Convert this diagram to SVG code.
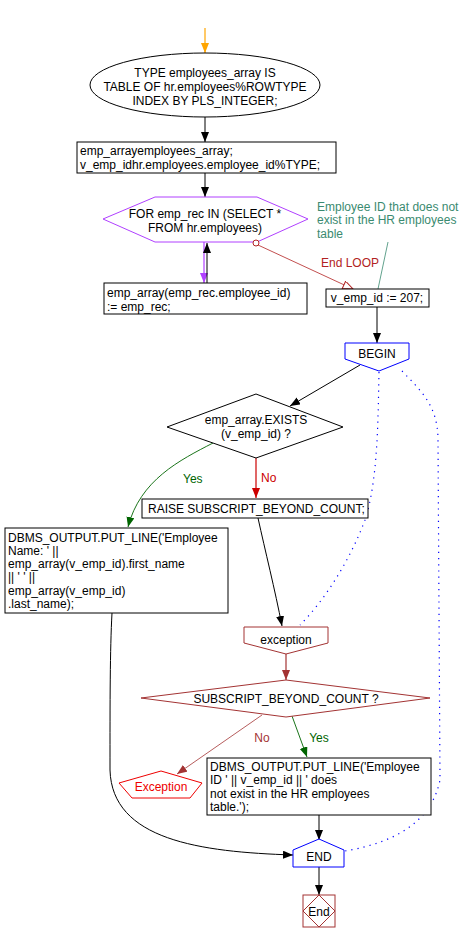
<svg xmlns="http://www.w3.org/2000/svg" width="473" height="942" viewBox="0 0 473 942">
<style>
text{font-family:"Liberation Sans",Arial,sans-serif;font-size:12px;fill:#000}
.c{text-anchor:middle}
.box{fill:#fff;stroke:#000;stroke-width:1}
.ln{fill:none;stroke:#000;stroke-width:1}
.dot{fill:none;stroke:#0000ff;stroke-width:1.2;stroke-dasharray:1.2 5}
</style>
<defs>
<marker id="ab" markerWidth="10" markerHeight="10" refX="10" refY="4" orient="auto" markerUnits="userSpaceOnUse"><path d="M0,0 L10,4 L0,8 z" fill="#000"/></marker>
<marker id="ar" markerWidth="10" markerHeight="10" refX="10" refY="4" orient="auto" markerUnits="userSpaceOnUse"><path d="M0,0 L10,4 L0,8 z" fill="#cc0000"/></marker>
<marker id="ad" markerWidth="10" markerHeight="10" refX="10" refY="4" orient="auto" markerUnits="userSpaceOnUse"><path d="M0,0 L10,4 L0,8 z" fill="#a33333"/></marker>
<marker id="ag" markerWidth="10" markerHeight="10" refX="10" refY="4" orient="auto" markerUnits="userSpaceOnUse"><path d="M0,0 L10,4 L0,8 z" fill="#006400"/></marker>
<marker id="ap" markerWidth="10" markerHeight="10" refX="10" refY="4" orient="auto" markerUnits="userSpaceOnUse"><path d="M0,0 L10,4 L0,8 z" fill="#b040ff"/></marker>
<marker id="ao" markerWidth="10" markerHeight="10" refX="10" refY="4" orient="auto" markerUnits="userSpaceOnUse"><path d="M0,0 L10,4 L0,8 z" fill="#ffa500"/></marker>
<marker id="aopen" markerWidth="12" markerHeight="10" refX="11" refY="4" orient="auto" markerUnits="userSpaceOnUse"><path d="M1,0 L11,4 L1,8 z" fill="#fff" stroke="#b22222"/></marker>
</defs>

<g id="connectors">
<line x1="205" y1="28" x2="205" y2="53" stroke="#ffa500" stroke-width="1.2" marker-end="url(#ao)"/>
<line class="ln" x1="205" y1="117" x2="205" y2="142" marker-end="url(#ab)"/>
<line class="ln" x1="205" y1="173" x2="205" y2="197" marker-end="url(#ab)"/>
<line x1="204" y1="242" x2="204" y2="283" stroke="#b040ff" stroke-width="1.2" marker-end="url(#ap)"/>
<line class="ln" x1="207" y1="283" x2="207" y2="243" marker-end="url(#ab)"/>
<line x1="258" y1="245" x2="353" y2="289" stroke="#b22222" stroke-width="0.8" marker-end="url(#aopen)"/>
<text x="321" y="267" style="fill:#b22222">End LOOP</text>
<line x1="388" y1="242" x2="378" y2="289" stroke="#3a8a70" stroke-width="0.8"/>
<line class="ln" x1="377" y1="307" x2="377" y2="343" marker-end="url(#ab)"/>
<line class="ln" x1="360" y1="365" x2="290" y2="406" marker-end="url(#ab)"/>
<line x1="256" y1="458" x2="256" y2="498" stroke="#cc0000" stroke-width="1.2" marker-end="url(#ar)"/>
<text x="261" y="482" style="fill:#cc0000">No</text>
<path d="M213,443 C180,460 140,480 128,527" fill="none" stroke="#006400" stroke-width="0.9" marker-end="url(#ag)"/>
<text x="183" y="483" style="fill:#006400">Yes</text>
<path class="ln" d="M258,518 C265,550 275,590 282,626" marker-end="url(#ab)"/>
<path class="dot" d="M379,372 C378,420 378,480 365,520 C350,560 325,600 300,625"/>
<path class="dot" d="M402,371 C420,390 438,405 438,440 L440,780 C430,830 380,845 345,851"/>
<line x1="286" y1="654" x2="286" y2="680" stroke="#a33333" stroke-width="1.2" marker-end="url(#ad)"/>
<line x1="262" y1="715" x2="177" y2="774" stroke="#a33333" stroke-width="0.8" marker-end="url(#ad)"/>
<text x="262" y="742" class="c" style="fill:#a33333">No</text>
<line x1="292" y1="716" x2="307" y2="757" stroke="#006400" stroke-width="0.9" marker-end="url(#ag)"/>
<text x="319" y="742" class="c" style="fill:#006400">Yes</text>
<path class="ln" d="M112,613 C110,650 110,700 110,770 C112,840 200,852 293,855" marker-end="url(#ab)"/>
<line class="ln" x1="319" y1="815" x2="319" y2="840" marker-end="url(#ab)"/>
<line class="ln" x1="319" y1="867" x2="319" y2="895" marker-end="url(#ab)"/>
</g>

<g id="n_type">
<ellipse cx="205" cy="85" rx="115" ry="32" class="box"/>
<text x="205" y="77" class="c">TYPE employees_array IS</text>
<text x="205" y="91" class="c">TABLE OF hr.employees%ROWTYPE</text>
<text x="205" y="105" class="c">INDEX BY PLS_INTEGER;</text>
</g>

<g id="n_decl">
<rect x="77" y="142" width="259" height="31" class="box"/>
<text x="80" y="155">emp_arrayemployees_array;</text>
<text x="80" y="169">v_emp_idhr.employees.employee_id%TYPE;</text>
</g>

<g id="n_for">
<polygon points="103,219 155,197 257,197 308,219 257,242 155,242" fill="#fff" stroke="#b040ff" stroke-width="1"/>
<text x="205" y="218" class="c">FOR emp_rec IN (SELECT *</text>
<text x="205" y="232" class="c">FROM hr.employees)</text>
<circle cx="256" cy="243" r="3" fill="#fff" stroke="#b22222" stroke-width="1"/>
</g>

<g id="n_assign">
<rect x="104" y="283" width="203" height="31" class="box"/>
<text x="107" y="297">emp_array(emp_rec.employee_id)</text>
<text x="107" y="311">:= emp_rec;</text>
</g>

<g id="n_comment">
<text x="317" y="211" style="fill:#3a8a70">Employee ID that does not</text>
<text x="317" y="224" style="fill:#3a8a70">exist in the HR employees</text>
<text x="317" y="238" style="fill:#3a8a70">table</text>
</g>

<g id="n_vemp">
<rect x="326" y="289" width="103" height="18" class="box"/>
<text x="377" y="302" class="c">v_emp_id := 207;</text>
</g>

<g id="n_begin">
<polygon points="345,343 409,343 409,359 379,371 345,359" fill="#fff" stroke="#0000ff" stroke-width="1"/>
<text x="377" y="358" class="c">BEGIN</text>
</g>

<g id="n_exists">
<polygon points="167,427 256,394 343,427 256,458" class="box"/>
<text x="256" y="424" class="c">emp_array.EXISTS</text>
<text x="256" y="438" class="c">(v_emp_id) ?</text>
</g>

<g id="n_raise">
<rect x="142" y="499" width="226" height="19" class="box"/>
<text x="148" y="513">RAISE SUBSCRIPT_BEYOND_COUNT;</text>
</g>

<g id="n_print1">
<rect x="5" y="528" width="223" height="85" class="box"/>
<text x="8" y="542">DBMS_OUTPUT.PUT_LINE('Employee</text>
<text x="8" y="555">Name: ' ||</text>
<text x="8" y="568">emp_array(v_emp_id).first_name</text>
<text x="8" y="581">|| ' ' ||</text>
<text x="8" y="595">emp_array(v_emp_id)</text>
<text x="8" y="608">.last_name);</text>
</g>

<g id="n_exception">
<polygon points="244,627 328,627 328,643 286,654 244,643" fill="#fff" stroke="#a33333" stroke-width="1"/>
<text x="286" y="644" class="c">exception</text>
</g>

<g id="n_sbc">
<polygon points="141,698 286,680 430,698 286,717" fill="#fff" stroke="#a33333" stroke-width="1"/>
<text x="286" y="703" class="c">SUBSCRIPT_BEYOND_COUNT ?</text>
</g>

<g id="n_exc_term">
<polygon points="119,783 161,771 202,783 190,798 132,798" fill="#fff" stroke="#ee0000" stroke-width="1"/>
<text x="161" y="791" class="c" style="fill:#ee0000">Exception</text>
</g>

<g id="n_print2">
<rect x="207" y="758" width="224" height="57" class="box"/>
<text x="210" y="771">DBMS_OUTPUT.PUT_LINE('Employee</text>
<text x="210" y="784">ID ' || v_emp_id || ' does</text>
<text x="210" y="798">not exist in the HR employees</text>
<text x="210" y="811">table.');</text>
</g>

<g id="n_end">
<polygon points="293,850 319,839 344,850 344,867 293,867" fill="#fff" stroke="#0000ff" stroke-width="1"/>
<text x="319" y="861" class="c">END</text>
</g>

<g id="n_endterm">
<rect x="303" y="895" width="32" height="32" fill="#fff" stroke="#a33333" stroke-width="1"/>
<polygon points="319,895 335,911 319,927 303,911" fill="none" stroke="#a33333" stroke-width="1"/>
<text x="319" y="916" class="c">End</text>
</g>
</svg>
